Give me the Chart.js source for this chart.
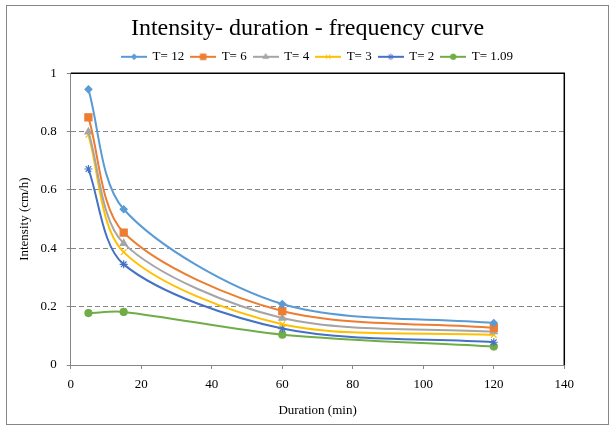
<!DOCTYPE html>
<html>
<head>
<meta charset="utf-8">
<script src="https://cdn.jsdelivr.net/npm/chart.js@4/dist/chart.umd.min.js"></script>
<style>
  html, body { margin: 0; padding: 0; background: #fff; }
</style>
</head>
<body>
<canvas id="chart" width="615" height="432"></canvas>
<script>
// durations (min) on x, intensity (cm/h) on y
const durations = [5, 15, 60, 120];
const seriesNames = ["T= 12", "T= 6", "T= 4", "T= 3", "T= 2", "T= 1.09"];
const t12 = [0.945, 0.534, 0.209, 0.144];
const t6 = [0.849, 0.454, 0.185, 0.127];
const t4 = [0.799, 0.417, 0.161, 0.114];
const t3 = [0.789, 0.387, 0.140, 0.103];
const t2 = [0.672, 0.345, 0.125, 0.078];
const t109 = [0.178, 0.182, 0.104, 0.063];
const xRange = [0, 140, 20];
const yRange = [0, 1, 0.2];

const serif = "'Liberation Serif', 'Times New Roman', serif";
const axisGray = "#868686";

const looks = [
  { color: "#5B9BD5", style: "rectRot", r: 3.5 },
  { color: "#ED7D31", style: "rect", r: 5 },
  { color: "#A5A5A5", style: "triangle", r: 4 },
  { color: "#FFC000", style: "crossRot", r: 4 },
  { color: "#4472C4", style: "star", r: 4 },
  { color: "#70AD47", style: "circle", r: 3.5 },
];

const allValues = [t12, t6, t4, t3, t2, t109];

function legendIcon(look) {
  const c = document.createElement("canvas");
  c.width = 26;
  c.height = 12;
  const g = c.getContext("2d");
  g.strokeStyle = look.color;
  g.fillStyle = look.color;
  g.lineWidth = 2;
  g.beginPath();
  g.moveTo(0, 6);
  g.lineTo(26, 6);
  g.stroke();
  g.lineWidth = 1;
  if (Chart.helpers && Chart.helpers.drawPoint) {
    Chart.helpers.drawPoint(g, { pointStyle: look.style, radius: look.r * 0.8, borderWidth: 1, rotation: 0 }, 13, 6);
  }
  return c;
}
const icons = looks.map(legendIcon);

const datasets = allValues.map((vals, i) => ({
  label: seriesNames[i],
  data: durations.map((d, j) => ({ x: d, y: vals[j] })),
  borderColor: looks[i].color,
  backgroundColor: looks[i].color,
  borderWidth: 2,
  pointStyle: looks[i].style,
  pointRadius: looks[i].r,
  pointBorderWidth: 1.2,
  tension: 0.3,
  fill: false,
}));

const framePlugin = {
  id: "frame",
  beforeDraw(chart) {
    const ctx = chart.ctx;
    ctx.save();
    ctx.fillStyle = "#fff";
    ctx.fillRect(0, 0, chart.width, chart.height);
    ctx.strokeStyle = axisGray;
    ctx.lineWidth = 1;
    ctx.strokeRect(6.5, 5.5, 602, 419);
    ctx.restore();
  },
  beforeDatasetsDraw(chart) {
    const { ctx, chartArea: a } = chart;
    ctx.save();
    ctx.strokeStyle = "#000";
    ctx.lineWidth = 1.5;
    ctx.beginPath();
    ctx.moveTo(a.left, a.top);
    ctx.lineTo(a.right, a.top);
    ctx.lineTo(a.right, a.bottom);
    ctx.stroke();
    ctx.restore();
  },
};

new Chart(document.getElementById("chart"), {
  type: "line",
  data: { datasets },
  plugins: [framePlugin],
  options: {
    responsive: false,
    animation: false,
    layout: { padding: 0 },
    plugins: {
      tooltip: { enabled: false },
      title: {
        display: true,
        text: "Intensity- duration - frequency curve",
        color: "#000",
        font: { family: serif, size: 24, weight: "normal", lineHeight: 1.2 },
        padding: { top: 12.7, bottom: 0 },
      },
      legend: {
        fullSize: false,
        labels: {
          usePointStyle: true,
          pointStyleWidth: 24,
          padding: 7,
          color: "#000",
          font: { family: serif, size: 13 },
          generateLabels(chart) {
            const items = Chart.defaults.plugins.legend.labels.generateLabels(chart);
            items.forEach((it, i) => { it.pointStyle = icons[i]; });
            return items;
          },
        },
      },
    },
    scales: {
      x: {
        type: "linear",
        min: xRange[0],
        max: xRange[1],
        ticks: { stepSize: xRange[2], color: "#000", padding: 8, font: { family: serif, size: 13 } },
        grid: { drawOnChartArea: false, tickLength: 4, tickColor: axisGray },
        border: { color: axisGray, width: 1 },
        title: {
          display: true,
          text: "Duration (min)",
          color: "#000",
          font: { family: serif, size: 13 },
          padding: { top: 0, bottom: 13.2 },
        },
        afterFit(s) {
          s.height = 67;
          s.paddingRight = 50.7;
        },
      },
      y: {
        min: yRange[0],
        max: yRange[1],
        ticks: {
          stepSize: yRange[2],
          color: "#000",
          padding: 10,
          font: { family: serif, size: 13 },
          callback: (v) => String(Number(v.toFixed(2))),
        },
        grid: {
          color: axisGray,
          tickBorderDash: [],
          tickLength: 4,
          tickColor: axisGray,
          lineWidth: 1,
        },
        border: { color: axisGray, width: 1, dash: [5, 3] },
        title: {
          display: true,
          text: "Intensity (cm/h)",
          color: "#000",
          font: { family: serif, size: 13 },
          padding: { top: 16.6, bottom: 0 },
        },
        afterFit(s) {
          s.width = 70.8;
          s.paddingTop = 73.3;
        },
      },
    },
  },
});
</script>
</body>
</html>
